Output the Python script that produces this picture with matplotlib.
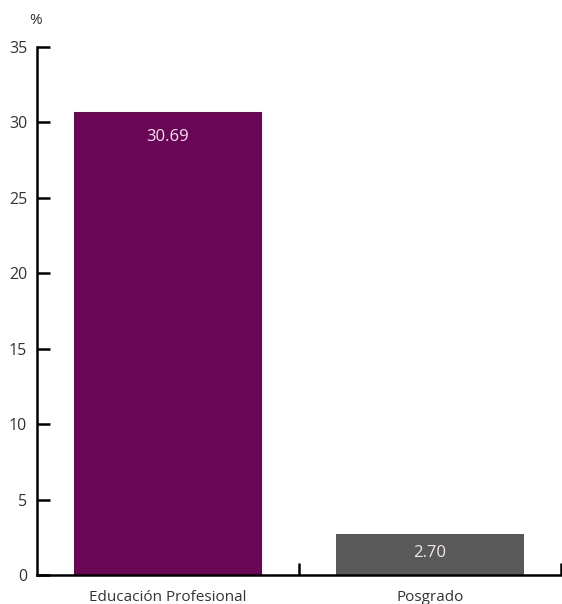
import matplotlib
matplotlib.use("Agg")
import matplotlib.pyplot as plt

categories = ["Educación Profesional", "Posgrado"]
values = [30.69, 2.70]
labels = ["30.69", "2.70"]
colors = ["#6B0555", "#595959"]
yticks = [0, 5, 10, 15, 20, 25, 30, 35]

plt.rcParams['font.family'] = ['Open Sans', 'DejaVu Sans']

fig = plt.figure(figsize=(5.62, 6.04), dpi=100)
ax = fig.add_axes([37/562, 29/604, 524/562, 528/604])

x = list(range(len(categories)))
bars = ax.bar(x, values, width=0.72, color=colors, zorder=2)

ax.set_xlim(-0.5, 1.5)
ax.set_ylim(0, 35)
ax.set_yticks(yticks)
ax.set_yticklabels([str(t) for t in yticks], fontsize=11.5, color="#333333")
ax.tick_params(axis='y', direction='in', length=9, width=1.8, pad=7)

ax.set_xticks(x)
ax.set_xticklabels(categories, fontsize=11, color="#333333")
ax.tick_params(axis='x', which='major', length=0, pad=11)
ax.set_xticks([0.5, 1.5], minor=True)
ax.tick_params(axis='x', which='minor', direction='in', length=9, width=1.8)

for s in ['top', 'right']:
    ax.spines[s].set_visible(False)
for s in ['left', 'bottom']:
    ax.spines[s].set_linewidth(1.8)
    ax.spines[s].set_color('black')
ax.spines['bottom'].set_zorder(3)

for b, lab, v in zip(bars, labels, values):
    h_px = v * 528 / 35
    off = -min(25, h_px / 2 * 0.9)
    ax.annotate(lab, (b.get_x() + b.get_width() / 2, v), xytext=(0, off * 0.72),
                textcoords='offset points', ha='center', va='center',
                fontsize=12, color='#f0e8ee')

fig.text(36/562, 1 - 20/604, "%", fontsize=11, color="#333333", ha='center', va='center')

fig.savefig("out.png", dpi=100)
